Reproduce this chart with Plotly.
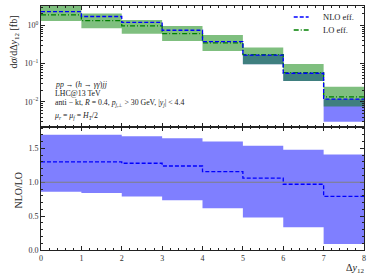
import plotly.graph_objects as go
from plotly.subplots import make_subplots

# ---- data ----
bin_edges = [0, 1, 2, 3, 4, 5, 6, 7, 8]
nlo = [2.3, 1.72, 1.2, 0.75, 0.377, 0.168, 0.056, 0.0117]
lo = [1.9, 1.34, 0.98, 0.61, 0.35, 0.172, 0.058, 0.0135]
lo_band_lo = [1.3, 0.85, 0.61, 0.39, 0.215, 0.097, 0.035, 0.0075]
lo_band_hi = [3.4, 2.05, 1.4, 0.97, 0.56, 0.265, 0.098, 0.025]
nlo_band_lo = [2.3, 1.72, 1.2, 0.75, 0.377, 0.096, 0.035, 0.003]
nlo_band_hi = [2.3, 1.72, 1.2, 0.75, 0.377, 0.168, 0.056, 0.0117]
ratio = [1.30, 1.30, 1.28, 1.24, 1.157, 1.06, 0.97, 0.79]
ratio_lo = [0.86, 0.84, 0.79, 0.735, 0.615, 0.48, 0.335, 0.09]
ratio_hi = [1.70, 1.70, 1.68, 1.65, 1.60, 1.54, 1.48, 1.41]
log_tickvals = [1, 0.1, 0.01]
log_ticktext = ["10<sup>0</sup>", "10<sup>\u22121</sup>", "10<sup>\u22122</sup>"]
x_tickvals = [0, 1, 2, 3, 4, 5, 6, 7, 8]
ratio_tickvals = [0.0, 0.5, 1.0, 1.5]
ratio_ticktext = ["0.0", "0.5", "1.0", "1.5"]
series_names = ["NLO eff.", "LO eff."]


def step(v):
    return list(v) + [v[-1]]


FONT = "Liberation Serif"
BLUE = "#0000ff"
GREEN = "#008000"
BLUE_FILL = "rgba(0,0,255,0.5)"
GREEN_FILL = "rgba(0,128,0,0.5)"
NLO_DASH = "4px,2px"
LO_DASH = "5px,2px,1px,2px"

fig = make_subplots(rows=2, cols=1, shared_xaxes=True, vertical_spacing=0,
                    row_heights=[0.496, 0.504])

# top panel bands
fig.add_trace(go.Scatter(x=bin_edges, y=step(nlo_band_lo), mode="lines", line=dict(width=0, shape="hv"),
                         showlegend=False, hoverinfo="skip"), row=1, col=1)
fig.add_trace(go.Scatter(x=bin_edges, y=step(nlo_band_hi), mode="lines", line=dict(width=0, shape="hv"),
                         fill="tonexty", fillcolor=BLUE_FILL, showlegend=False, hoverinfo="skip"), row=1, col=1)
fig.add_trace(go.Scatter(x=bin_edges, y=step(lo_band_lo), mode="lines", line=dict(width=0, shape="hv"),
                         showlegend=False, hoverinfo="skip"), row=1, col=1)
fig.add_trace(go.Scatter(x=bin_edges, y=step(lo_band_hi), mode="lines", line=dict(width=0, shape="hv"),
                         fill="tonexty", fillcolor=GREEN_FILL, showlegend=False, hoverinfo="skip"), row=1, col=1)
# top panel lines
fig.add_trace(go.Scatter(x=bin_edges, y=step(lo), mode="lines", name=series_names[1], showlegend=False,
                         line=dict(color=GREEN, width=1.3, shape="hv", dash=LO_DASH)), row=1, col=1)
fig.add_trace(go.Scatter(x=bin_edges, y=step(nlo), mode="lines", name=series_names[0], showlegend=False,
                         line=dict(color=BLUE, width=1.3, shape="hv", dash=NLO_DASH)), row=1, col=1)

# ratio panel
fig.add_trace(go.Scatter(x=bin_edges, y=step(ratio_lo), mode="lines", line=dict(width=0, shape="hv"),
                         showlegend=False, hoverinfo="skip"), row=2, col=1)
fig.add_trace(go.Scatter(x=bin_edges, y=step(ratio_hi), mode="lines", line=dict(width=0, shape="hv"),
                         fill="tonexty", fillcolor=BLUE_FILL, showlegend=False, hoverinfo="skip"), row=2, col=1)
fig.add_hline(y=1.0, line=dict(color="#808080", width=1), row=2, col=1)
fig.add_trace(go.Scatter(x=bin_edges, y=step(ratio), mode="lines", showlegend=False,
                         line=dict(color=BLUE, width=1.3, shape="hv", dash=NLO_DASH)), row=2, col=1)

axis_common = dict(showline=True, linecolor="#222", linewidth=1, mirror="allticks", automargin=False,
                   ticks="inside", ticklen=4, tickcolor="#222", showgrid=False, zeroline=False,
                   tickfont=dict(family=FONT, size=8, color="#333"))

fig.update_xaxes(**axis_common, range=[0, 8], tickvals=x_tickvals,
                 minor=dict(ticks="inside", ticklen=2, dtick=0.2, tickcolor="#222", showgrid=False))
fig.update_xaxes(showticklabels=False, row=1, col=1)
fig.update_yaxes(**axis_common, row=1, col=1, type="log", range=[-2.66, 0.51],
                 tickvals=log_tickvals, ticktext=log_ticktext,
                 minor=dict(ticks="inside", ticklen=2, tickcolor="#222",
                            tickvals=[m * 10 ** e for e in (-3, -2, -1, 0) for m in range(2, 10)]))
fig.update_yaxes(**axis_common, row=2, col=1, range=[0, 1.815],
                 tickvals=ratio_tickvals, ticktext=ratio_ticktext,
                 minor=dict(ticks="inside", ticklen=2, dtick=0.1, tickcolor="#222", showgrid=False))


def px_x(xp):
    return (xp - 40.5) / 324


def px_y(yp):
    return (250 - yp) / 244


ann_font = dict(family=FONT, size=7.8, color="#222")
lines = [
    ("<i>pp</i> \u2192 (<i>h</i> \u2192 <i>\u03b3\u03b3</i>)<i>jj</i>", 84),
    ("LHC@13 TeV", 93),
    ("anti \u2212 kt, <i>R</i> = 0.4, <i>p</i><sub><i>j</i>,\u22a5</sub> > 30 GeV, |<i>y<sub>j</sub></i>| < 4.4", 103),
    ("<i>\u03bc<sub>r</sub></i> = <i>\u03bc<sub>f</sub></i> = <i>H<sub>T</sub></i>/2", 116),
]
for txt, ypix in lines:
    fig.add_annotation(text=txt, xref="paper", yref="paper", x=px_x(53), y=px_y(ypix),
                       xanchor="left", yanchor="middle", showarrow=False, font=ann_font)

title_font = dict(family=FONT, size=10, color="#222")
fig.add_annotation(text="d<i>\u03c3</i>/dΔ<i>y</i><sub>12</sub> [fb]", xref="paper", yref="paper",
                   x=px_x(13), y=px_y(42), textangle=-90, showarrow=False,
                   xanchor="center", yanchor="middle", font=title_font)
fig.add_annotation(text="NLO/LO", xref="paper", yref="paper",
                   x=px_x(17), y=px_y(190), textangle=-90, showarrow=False,
                   xanchor="center", yanchor="middle", font=title_font)
fig.add_annotation(text="Δ<i>y</i><sub>12</sub>", xref="paper", yref="paper",
                   x=px_x(367), y=px_y(268), showarrow=False,
                   xanchor="right", yanchor="middle", font=title_font)

# legend (drawn manually to match compact matplotlib legend)
leg_font = dict(family=FONT, size=8.5, color="#222")
for name, color, dash, ypix in [(series_names[0], BLUE, NLO_DASH, 17), (series_names[1], GREEN, LO_DASH, 30)]:
    fig.add_shape(type="line", xref="paper", yref="paper", x0=px_x(294), x1=px_x(309),
                  y0=px_y(ypix), y1=px_y(ypix), line=dict(color=color, width=1.3, dash=dash))
    fig.add_annotation(text=name, xref="paper", yref="paper", x=px_x(321), y=px_y(ypix),
                       xanchor="left", yanchor="middle", showarrow=False, font=leg_font)

fig.update_layout(width=374, height=280, margin=dict(l=40.5, r=9.5, t=6, b=30, autoexpand=False),
                  plot_bgcolor="white", paper_bgcolor="white", showlegend=False,
                  font=dict(family=FONT))

fig.write_html("out.html", config={"displayModeBar": False},
               post_script="document.body.style.margin='0';document.body.style.padding='0';")
